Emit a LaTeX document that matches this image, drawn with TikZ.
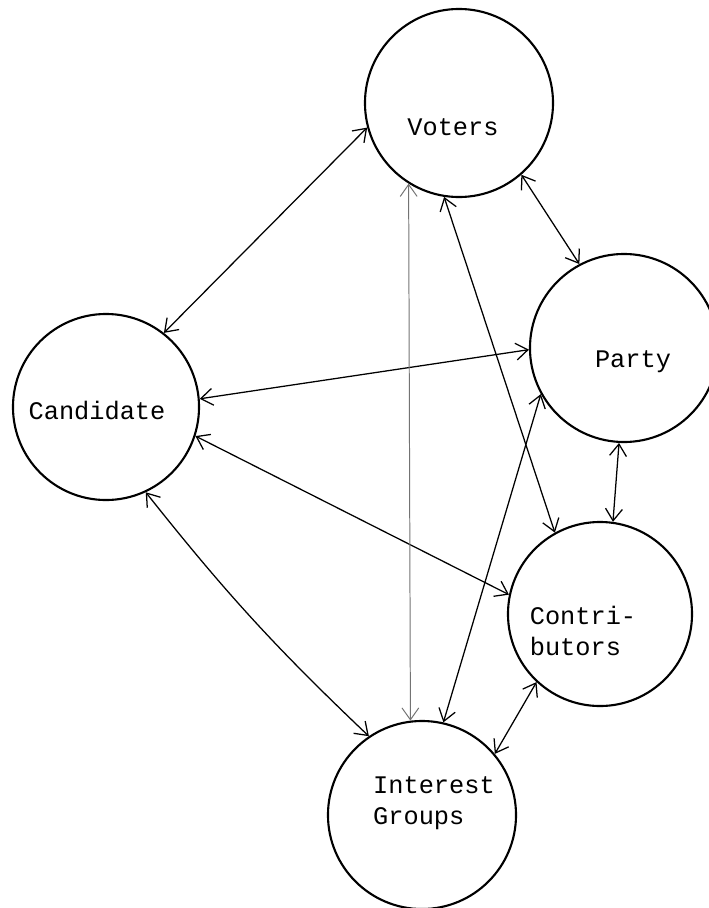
\documentclass[tikz,border=0pt]{standalone}
\usepackage{fontspec}
\setmonofont{Liberation Mono}
\usetikzlibrary{arrows.meta}
\begin{document}
\begin{tikzpicture}[x=0.025cm,y=-0.025cm,
  actor/.style={circle,draw,line width=1.5pt,inner sep=0pt,minimum size=#1},
  lbl/.style={font=\ttfamily\fontsize{18}{22}\selectfont,align=left,inner sep=0pt},
  link/.style={line width=0.9pt,{Straight Barb[length=8.5pt,width=12pt]}-{Straight Barb[length=8.5pt,width=12pt]}},
  faint/.style={link,draw=black!55,line width=0.7pt}
]
\useasboundingbox (0,0) rectangle (709,908);
% circles
\node[actor=4.7cm]  (voters) at (459,103) {};
\node[actor=4.7cm]  (party)  at (624,348) {};
\node[actor=4.65cm] (cand)   at (106,407) {};
\node[actor=4.6cm]  (contr)  at (600,614) {};
\node[actor=4.7cm]  (inter)  at (422,815) {};
% labels
\node[lbl] (voterst) at (453,127) {Voters};
\node[lbl] (partyt)  at (633,362) {Party};
\node[lbl] (candt)   at (97,410)  {Candidate};
\node[lbl] (contrt)  at (583,631) {Contri-\\butors};
\node[lbl] (intert)  at (434,803) {Interest\\Groups};
% connectors
\draw[link] (voters.195) -- (cand.52);
\draw[link] (cand.5) -- (party.181);
\draw[link] (cand.-18) -- (contr.168);
\draw[link] (cand.-65) to[bend right=4] (inter.124);
\draw[faint] (voters.238) -- (inter.97);
\draw[link] (voters.261) -- (contr.119);
\draw[link] (voters.-49) -- (party.118);
\draw[link] (party.267) -- (contr.82);
\draw[link] (party.209) -- (inter.77);
\draw[link] (contr.227) -- (inter.40);
\end{tikzpicture}
\end{document}
